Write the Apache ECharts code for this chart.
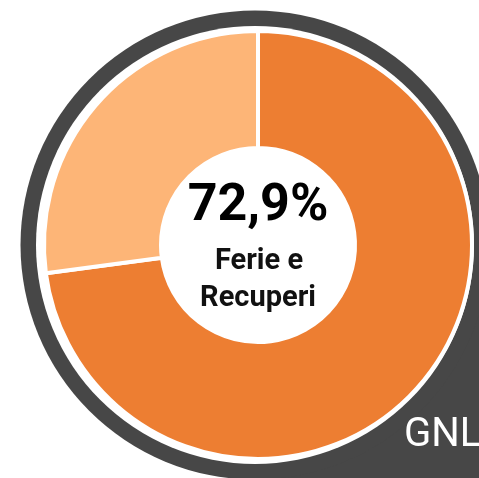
<!DOCTYPE html>
<html>
<head>
	<meta charset="utf-8">
	<title>Ferie e Recuperi</title>
	<style>
		html, body { margin: 0; padding: 0; background: #fff; }
		#chart { width: 479px; height: 478px; }
	</style>
</head>
<body>
	<div id="chart"></div>
	<script src="https://cdn.jsdelivr.net/npm/echarts@6/dist/echarts.min.js"></script>
	<script>
		// dati
		var categories = ['Ferie e Recuperi', 'Altro'];
		var values = [72.9, 27.1];
		var colors = ['#ED7E32', '#FDB577'];
		var centerValue = '72,9%';
		var centerLines = ['Ferie e', 'Recuperi'];
		var cornerLabel = 'GNL';

		var dark = '#474747';
		var cx = 258, cy = 245;

		var chart = echarts.init(document.getElementById('chart'));
		chart.setOption({
			animation: false,
			graphic: [
				// sfondo scuro: cerchio con angolo in basso a destra squadrato
				{ type: 'rect', z: 0, shape: { x: 255, y: 245, width: 240, height: 240 }, style: { fill: dark } },
				{ type: 'circle', z: 0, shape: { cx: 255, cy: 245, r: 234.5 }, style: { fill: dark } },
				{ type: 'circle', z: 1, shape: { cx: 255, cy: 245, r: 219 }, style: { fill: '#fff' } },
				{ type: 'text', z: 10, left: 404, top: 416, style: {
					text: cornerLabel, fill: '#fff', font: '40px Roboto'
				} },
				{ type: 'text', z: 10, x: cx, y: 207, style: {
					text: centerValue, fill: '#000', font: 'bold 52px Roboto',
					textAlign: 'center', textVerticalAlign: 'middle'
				} },
				{ type: 'text', z: 10, x: cx + 1, y: 262, style: {
					text: centerLines[0], fill: '#111', font: 'bold 29px Roboto',
					textAlign: 'center', textVerticalAlign: 'middle'
				} },
				{ type: 'text', z: 10, x: cx, y: 299, style: {
					text: centerLines[1], fill: '#111', font: 'bold 29px Roboto',
					textAlign: 'center', textVerticalAlign: 'middle'
				} }
			],
			series: [{
				type: 'pie',
				z: 5,
				center: [cx, cy],
				radius: [97, 214],
				startAngle: 90,
				clockwise: true,
				label: { show: false },
				labelLine: { show: false },
				emphasis: { disabled: true },
				itemStyle: { borderColor: '#fff', borderWidth: 4 },
				data: categories.map(function (c, i) {
					return { name: c, value: values[i], itemStyle: { color: colors[i] } };
				})
			}]
		});
	</script>
</body>
</html>
